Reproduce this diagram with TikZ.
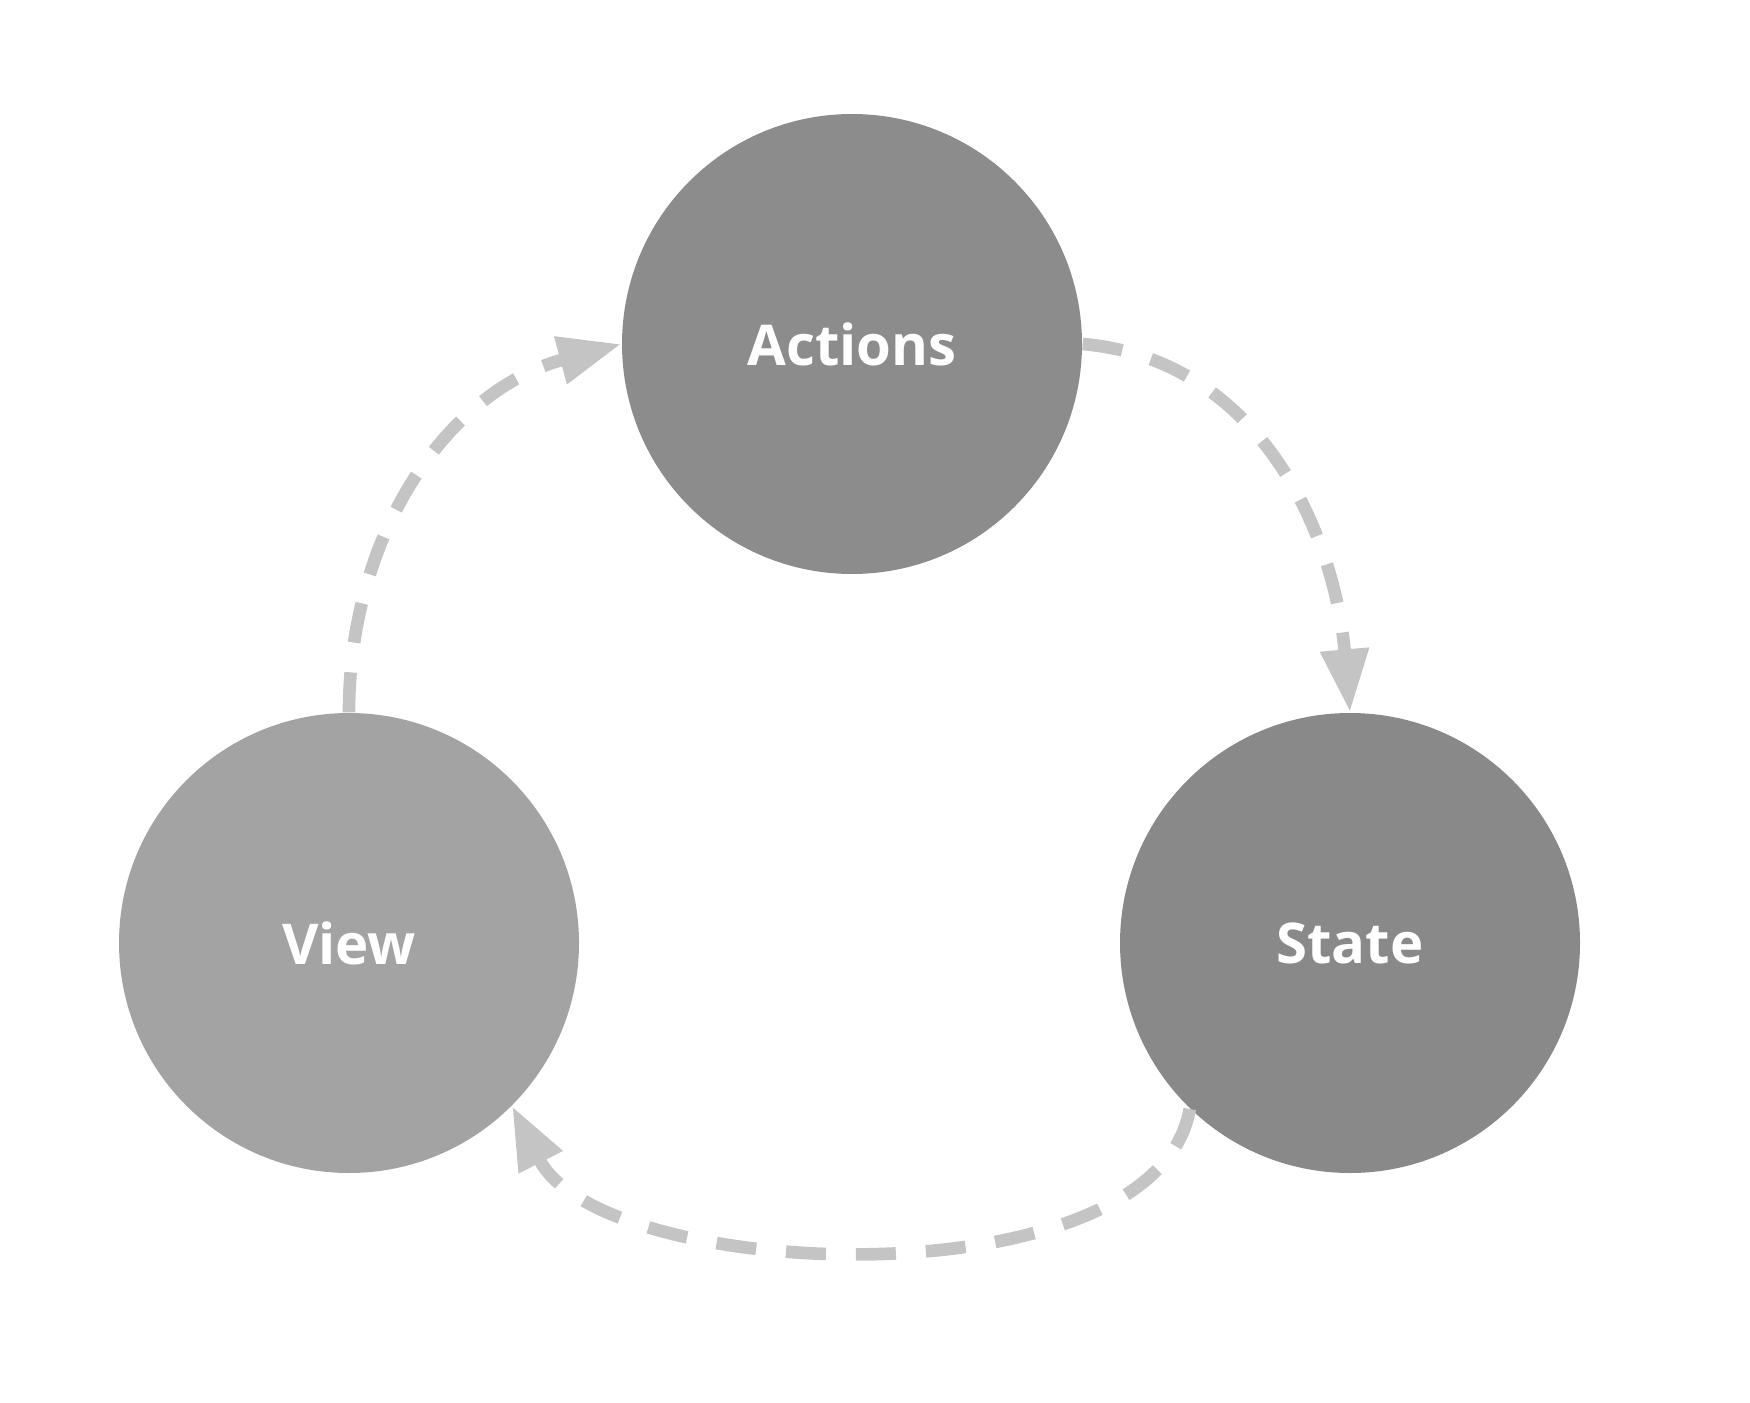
\documentclass[tikz,border=0pt]{standalone}
\usepackage{fontspec}
\setmainfont{Open Sans}
\usetikzlibrary{arrows.meta,positioning}
\definecolor{actgray}{HTML}{8C8C8C}
\definecolor{viewgray}{HTML}{A3A3A3}
\definecolor{stategray}{HTML}{898989}
\definecolor{linkgray}{HTML}{C4C4C4}

\begin{document}
\begin{tikzpicture}[
    font=\fontsize{16}{19}\selectfont\bfseries,
    >={Triangle[length=6.3mm, width=4.6mm]},
    stage/.style={circle, minimum size=4.6cm, inner sep=0pt, text=white},
    flow/.style={->, line width=3.6pt, linkgray, dash pattern=on 4mm off 3mm, looseness=1},
]
    \useasboundingbox (0, 0) rectangle (17.5, 14.02);

    % --- Nodes ---
    \node[stage, fill=actgray] (actions) at (8.52, 10.58) {Actions};
    \node[stage, fill=viewgray] (view) at (3.49, 4.59) {View};
    \node[stage, fill=stategray] (state) at (13.50, 4.59) {State};

    % --- Cycle ---
    \draw[flow] (view.north) to[out=90, in=195] (actions.west);
    \draw[flow] (actions.east) to[out=-5, in=95] (state.north);
    \draw[flow] (state.-134) to[out=-100, in=-63, looseness=0.75] (view.-45);

\end{tikzpicture}
\end{document}
